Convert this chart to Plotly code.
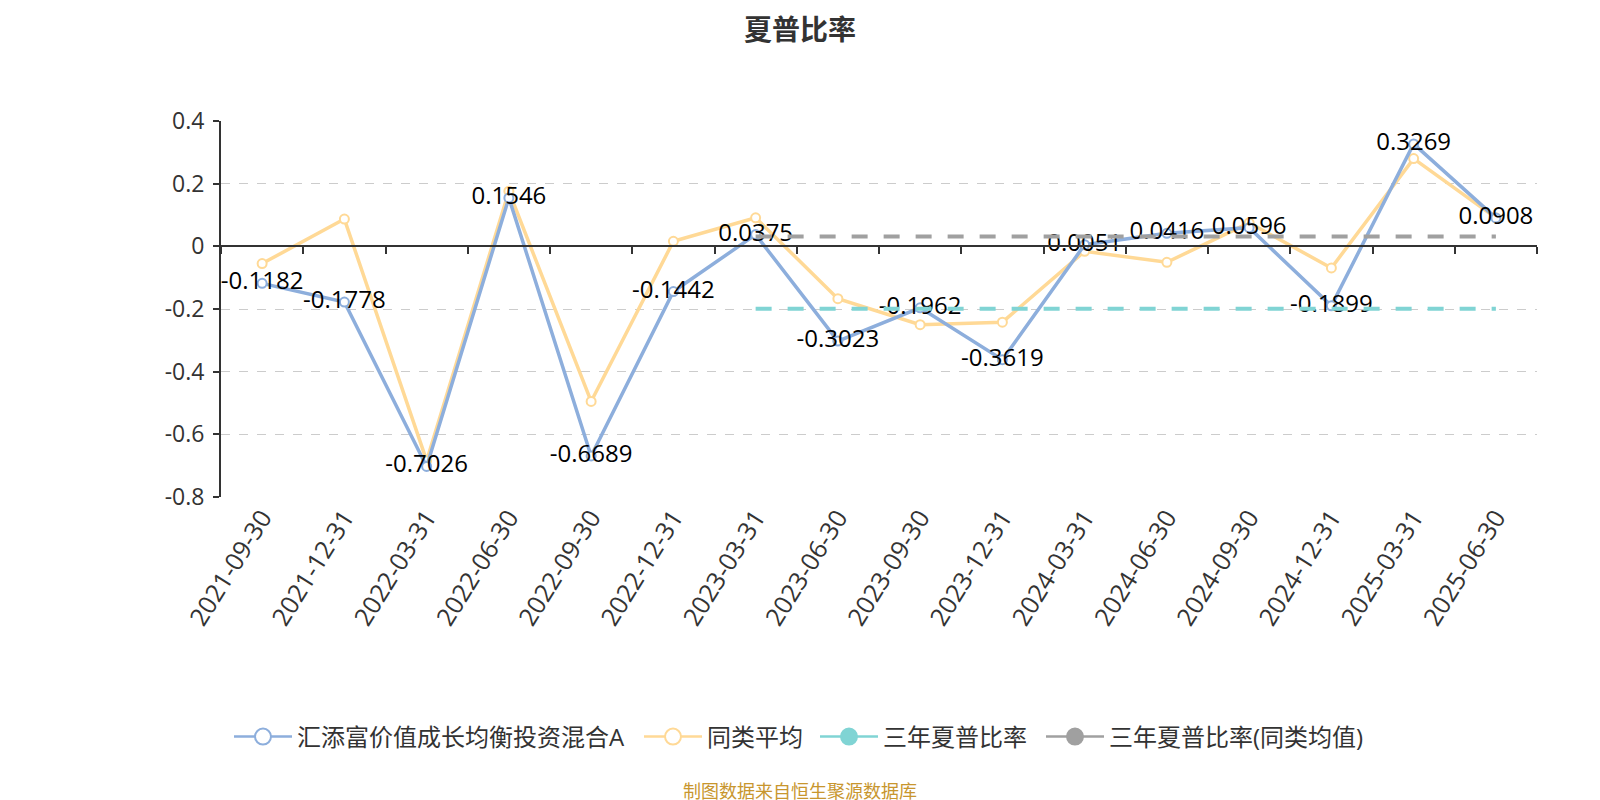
import plotly.graph_objects as go

categories = ["2021-09-30", "2021-12-31", "2022-03-31", "2022-06-30", "2022-09-30",
              "2022-12-31", "2023-03-31", "2023-06-30", "2023-09-30", "2023-12-31",
              "2024-03-31", "2024-06-30", "2024-09-30", "2024-12-31", "2025-03-31",
              "2025-06-30"]
fund_values = [-0.1182, -0.1778, -0.7026, 0.1546, -0.6689, -0.1442, 0.0375, -0.3023,
               -0.1962, -0.3619, 0.0051, 0.0416, 0.0596, -0.1899, 0.3269, 0.0908]
peer_values = [-0.055, 0.087, -0.684, 0.176, -0.495, 0.016, 0.091, -0.167,
               -0.250, -0.242, -0.016, -0.051, 0.075, -0.069, 0.280, 0.091]
three_year_categories = categories[6:]
three_year_fund = [-0.199] * len(three_year_categories)
three_year_peer = [0.031] * len(three_year_categories)
y_tick_values = [0.4, 0.2, 0, -0.2, -0.4, -0.6, -0.8]
y_tick_labels = ["0.4", "0.2", "0", "-0.2", "-0.4", "-0.6", "-0.8"]

names = ["汇添富价值成长均衡投资混合A", "同类平均", "三年夏普比率", "三年夏普比率(同类均值)"]
BLUE = "#8DAEDC"
YELLOW = "#FFD996"
TEAL = "#80D4D4"
GRAY = "#A0A0A0"
FONT = "Open Sans, Noto Sans CJK SC, sans-serif"
CJK = "Noto Sans CJK SC, sans-serif"

# the page body has an 8px margin; positions below are compensated for it
OFF = 8
fig = go.Figure()

fig.add_trace(go.Scatter(x=three_year_categories, y=three_year_fund, mode="lines",
                         line=dict(color=TEAL, width=4, dash="16px,16px"),
                         xaxis="x2", yaxis="y", showlegend=False, hoverinfo="skip"))
fig.add_trace(go.Scatter(x=three_year_categories, y=three_year_peer, mode="lines",
                         line=dict(color=GRAY, width=4, dash="16px,16px"),
                         xaxis="x2", yaxis="y", showlegend=False, hoverinfo="skip"))

fig.add_trace(go.Scatter(x=categories, y=peer_values, mode="lines+markers",
                         line=dict(color=YELLOW, width=3.5),
                         marker=dict(size=9, color="white", line=dict(color=YELLOW, width=2)),
                         showlegend=False))
fig.add_trace(go.Scatter(x=categories, y=fund_values, mode="lines+markers+text",
                         line=dict(color=BLUE, width=3.5),
                         marker=dict(size=9, color="white", line=dict(color=BLUE, width=2)),
                         text=[f"{v:.4f}" for v in fund_values],
                         textposition="middle center",
                         textfont=dict(family=FONT, size=24, color="#000000"),
                         showlegend=False))

# legend entries: one small legend per entry, placed like the reference
ITEMW = 58
legend_styles = [(BLUE, "white"), (YELLOW, "white"), (TEAL, TEAL), (GRAY, GRAY)]
legend_text_starts = [297, 707, 883, 1109]   # screen px where each legend label begins
legend_ids = ["legend", "legend2", "legend3", "legend4"]
for name, (lc, fc), lid in zip(names, legend_styles, legend_ids):
    fig.add_trace(go.Scatter(x=[None], y=[None], mode="lines+markers", name=name,
                             line=dict(color=lc, width=2.5),
                             marker=dict(size=22, color=fc, line=dict(color=lc, width=2)),
                             legend=lid))

legend_common = dict(orientation="h", xref="container", xanchor="left",
                     yref="container", y=1 - (737 - OFF) / 800, yanchor="middle",
                     font=dict(family=FONT, size=24, color="#333333"),
                     itemsizing="trace", itemwidth=ITEMW, bgcolor="rgba(0,0,0,0)",
                     borderwidth=0)
legends = {}
for lid, tx in zip(legend_ids, legend_text_starts):
    legends[lid] = dict(legend_common, x=(tx - OFF - ITEMW - 10) / 1600)

fig.update_layout(
    width=1600, height=800,
    margin=dict(l=221 - OFF, r=63 + OFF, t=121 - OFF, b=303 + OFF),
    paper_bgcolor="white", plot_bgcolor="white",
    font=dict(family=FONT, color="#333333"),
    title=dict(text="<b>夏普比率</b>", x=(800 - OFF) / 1600, xanchor="center",
               y=1 - 22 / 800, yanchor="middle",
               font=dict(family=CJK, size=28, color="#333333")),
    xaxis=dict(type="category", categoryorder="array", categoryarray=categories,
               range=[-0.5, len(categories) - 0.5], showline=False, showgrid=False,
               ticks="", tickangle=-58, tickfont=dict(family=FONT, size=25, color="#333333"),
               zeroline=False),
    xaxis2=dict(type="category", categoryorder="array", categoryarray=categories,
                range=[-0.5, len(categories) - 0.5], overlaying="x", anchor="free",
                position=0.8 / 1.2, showline=True, linecolor="#333333", linewidth=2,
                ticks="outside", tickson="boundaries", ticklen=7, tickwidth=2,
                tickcolor="#333333", showticklabels=False, showgrid=False, zeroline=False),
    yaxis=dict(range=[-0.8, 0.4], tickvals=y_tick_values, ticktext=y_tick_labels,
               showline=True, linecolor="#333333", linewidth=2, ticks="outside",
               ticklen=6, tickwidth=2, tickcolor="#333333", ticklabelstandoff=4,
               showgrid=True, gridcolor="#CCCCCC", gridwidth=1.3, griddash="dash",
               zeroline=False, tickfont=dict(family=FONT, size=23, color="#333333")),
    annotations=[dict(text="制图数据来自恒生聚源数据库", xref="paper", yref="paper",
                      x=(800 - OFF - 213) / 1316, xanchor="center",
                      y=1 - (790 - 121) / 376, yanchor="middle",
                      showarrow=False, font=dict(family=CJK, size=18, color="#C8962E"))],
    **legends,
)

fig.write_html("out.html")
